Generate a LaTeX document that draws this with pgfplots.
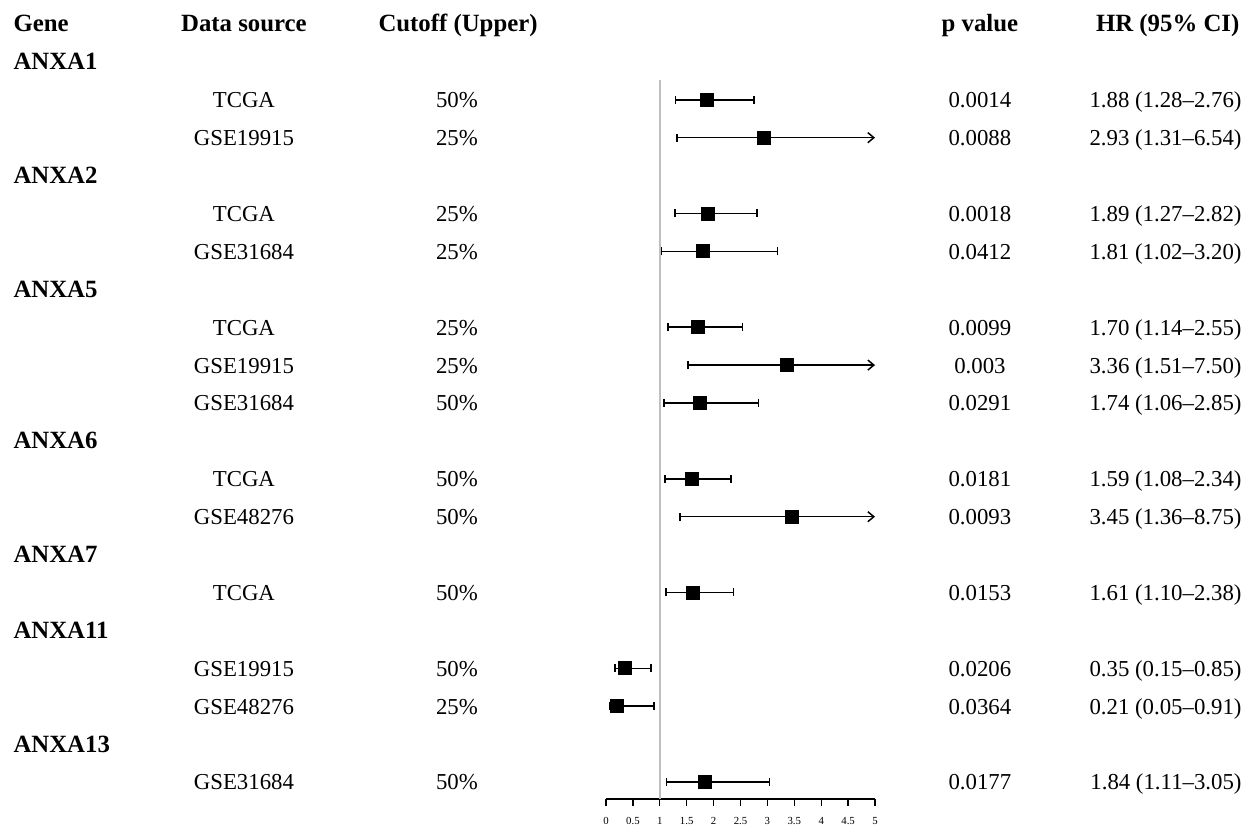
\documentclass[border=0pt]{standalone}
\usepackage{pgfplots}
\pgfplotsset{compat=1.18}
\usepackage{pgfplotstable}
\usepackage{fontspec}
\setmainfont{Liberation Serif}
\usetikzlibrary{arrows.meta}

\newcommand\rowfont{\fontsize{11.4}{13}\selectfont}
\newcommand\headfont{\fontsize{12.4}{14}\selectfont\bfseries}
\tikzset{
  gene/.style={anchor=base west, font=\headfont, yshift=-4pt, inner sep=0pt},
  head/.style={anchor=base, font=\headfont, yshift=-4pt, inner sep=0pt},
}

% Cox regression results: row position, data source, cutoff (%), p value, HR and 95% CI
\pgfplotstableread[col sep=comma]{
row,src,cut,p,hr,lo,hi
2,TCGA,50,0.0014,1.88,1.28,2.76
3,GSE19915,25,0.0088,2.93,1.31,6.54
5,TCGA,25,0.0018,1.89,1.27,2.82
6,GSE31684,25,0.0412,1.81,1.02,3.20
8,TCGA,25,0.0099,1.70,1.14,2.55
9,GSE19915,25,0.003,3.36,1.51,7.50
10,GSE31684,50,0.0291,1.74,1.06,2.85
12,TCGA,50,0.0181,1.59,1.08,2.34
13,GSE48276,50,0.0093,3.45,1.36,8.75
15,TCGA,50,0.0153,1.61,1.10,2.38
17,GSE19915,50,0.0206,0.35,0.15,0.85
18,GSE48276,25,0.0364,0.21,0.05,0.91
20,GSE31684,50,0.0177,1.84,1.11,3.05
}\hrdata

\newcommand\twodec[1]{\pgfmathprintnumber[fixed, fixed zerofill, precision=2, assume math mode=true]{#1}}

\begin{document}
\begin{tikzpicture}
\begin{axis}[
  x=26.9pt, y=18.95pt,
  xmin=0, xmax=5, ymin=-20.45, ymax=0.63,
  clip=false,
  axis x line*=bottom,
  axis y line=none,
  axis line style={black, line width=0.65pt},
  xtick={0,0.5,...,5},
  tick align=outside,
  major tick length=3.3pt,
  every tick/.style={black, line width=0.65pt},
  xticklabel style={font=\fontsize{5.4}{6}\selectfont, yshift=-2.5pt, /pgf/number format/assume math mode=true},
  every node near coord/.append style={text=black, font=\rowfont, anchor=base, yshift=-4pt, inner sep=0pt},
]
% canvas extent
\path (axis cs:-11.264,0.633) rectangle (axis cs:12.007,-21.135);

% reference line at HR = 1
\addplot[gray!50, line width=0.7pt] coordinates {(1,-1.48) (1,-20.45)};

% confidence intervals inside the plotted range
\addplot[black, line width=0.75pt,
  quiver={u=\thisrow{hi}-\thisrow{lo}, v=0,
    every arrow/.append style={line width=0.75pt, {Bar[width=4pt]}-{Bar[width=4pt]}}},
  restrict expr to domain={\thisrow{hi}}{0:5}]
  table[x=lo, y expr=-\thisrow{row}] {\hrdata};
% confidence intervals running beyond 5
\addplot[black, line width=0.75pt,
  quiver={u=5-\thisrow{lo}, v=0,
    every arrow/.append style={line width=0.75pt, {Bar[width=4pt]}-{Straight Barb[length=3pt,width=5pt]}}},
  restrict expr to domain={\thisrow{hi}}{5:100}]
  table[x=lo, y expr=-\thisrow{row}] {\hrdata};
% hazard ratios
\addplot[only marks, mark=square*, mark size=3.25pt, black]
  table[x=hr, y expr=-\thisrow{row}] {\hrdata};

% text columns
\addplot[draw=none, mark=none, nodes near coords, point meta=explicit symbolic]
  table[x expr=-6.73, y expr=-\thisrow{row}, meta=src] {\hrdata};
\addplot[draw=none, mark=none, nodes near coords={\pgfplotspointmeta\%}, point meta=explicit symbolic]
  table[x expr=-2.77, y expr=-\thisrow{row}, meta=cut] {\hrdata};
\addplot[draw=none, mark=none, nodes near coords, point meta=explicit symbolic]
  table[x expr=6.95, y expr=-\thisrow{row}, meta=p] {\hrdata};
\addplot[draw=none, mark=none,
  visualization depends on={\thisrow{hr}\as\hrv},
  visualization depends on={\thisrow{lo}\as\lov},
  visualization depends on={\thisrow{hi}\as\hiv},
  nodes near coords={\twodec{\hrv}\ (\twodec{\lov}\textendash\twodec{\hiv})},
  every node near coord/.append style={anchor=base east}]
  table[x expr=11.82, y expr=-\thisrow{row}] {\hrdata};

% headers
\node[gene] at (axis cs:-11.02,0) {Gene};
\node[head] at (axis cs:-6.73,0) {Data source};
\node[head] at (axis cs:-2.75,0) {Cutoff (Upper)};
\node[head] at (axis cs:6.95,0) {p value};
\node[head, anchor=base east] at (axis cs:11.78,0) {HR (95\% CI)};

% gene names
\node[gene] at (axis cs:-11.02,-1) {ANXA1};
\node[gene] at (axis cs:-11.02,-4) {ANXA2};
\node[gene] at (axis cs:-11.02,-7) {ANXA5};
\node[gene] at (axis cs:-11.02,-11) {ANXA6};
\node[gene] at (axis cs:-11.02,-14) {ANXA7};
\node[gene] at (axis cs:-11.02,-16) {ANXA11};
\node[gene] at (axis cs:-11.02,-19) {ANXA13};
\end{axis}
\end{tikzpicture}
\end{document}
